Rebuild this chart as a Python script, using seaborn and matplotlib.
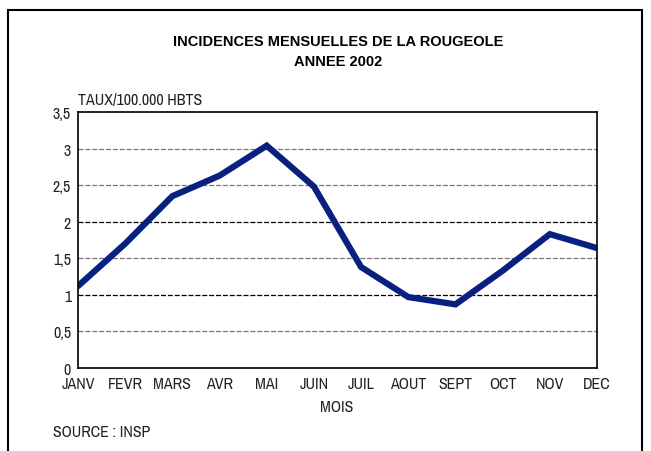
import matplotlib
matplotlib.use("Agg")
import matplotlib.pyplot as plt
import matplotlib.font_manager as fm
import numpy as np
import pandas as pd
import seaborn as sns

mois = ["JANV", "FEVR", "MARS", "AVR", "MAI", "JUIN", "JUIL", "AOUT", "SEPT", "OCT", "NOV", "DEC"]
taux = [1.12, 1.70, 2.35, 2.63, 3.04, 2.48, 1.38, 0.97, 0.87, 1.33, 1.83, 1.64]
yticks = [0, 0.5, 1, 1.5, 2, 2.5, 3, 3.5]
ylabels = ["0", "0,5", "1", "1,5", "2", "2,5", "3", "3,5"]

sns.set_style("white")

# chercher une police étroite
cands = []
for f in fm.fontManager.ttflist:
    st = str(f.stretch).lower()
    if ("narrow" in f.name.lower() or "condensed" in f.name.lower() or "condensed" in st) \
            and f.style == "normal" and "bold" not in f.fname.lower():
        cands.append((f.name, f.fname))
cands.sort()
if cands:
    fp = fm.FontProperties(fname=cands[0][1])
    tsize = 11.5
else:
    fp = fm.FontProperties(family="Liberation Sans")
    tsize = 9.3

df = pd.DataFrame({"mois": mois, "taux": taux})

W, H = 651, 452
fig = plt.figure(figsize=(W / 100, H / 100), dpi=100)
ax = fig.add_axes([78 / W, 1 - 369 / H, (597 - 78) / W, (369 - 113) / H])

sns.lineplot(data=df, x="mois", y="taux", sort=False, color="#08207f", linewidth=4.5, ax=ax,
             solid_joinstyle="miter", solid_capstyle="round")

ax.set_xlim(0, 11)
ax.set_ylim(0, 3.5)
ax.set_yticks(yticks)
ax.set_yticklabels(ylabels)
ax.set_xticks(range(12))
ax.set_xticklabels(mois)
for lab in ax.get_xticklabels() + ax.get_yticklabels():
    lab.set_fontproperties(fp)
    lab.set_fontsize(tsize)
    lab.set_color("#222222")
ax.tick_params(axis="both", length=0)
ax.tick_params(axis="x", pad=6)
ax.tick_params(axis="y", pad=5)
ax.set_xlabel("")
ax.set_ylabel("")
for s in ax.spines.values():
    s.set_color("black")
    s.set_linewidth(1.2)

for v in yticks[1:-1]:
    c = "black" if v in (1, 2) else "#777777"
    ax.axhline(v, color=c, linestyle=(0, (4, 1.5)), linewidth=0.9, zorder=0)

fig.text(338 / W, 1 - 42 / H, "INCIDENCES MENSUELLES DE LA ROUGEOLE", ha="center", va="center",
         fontsize=10.5, fontweight="bold", family=["Liberation Sans", "DejaVu Sans"], color="black")
fig.text(338 / W, 1 - 62 / H, "ANNEE 2002", ha="center", va="center",
         fontsize=10.5, fontweight="bold", family=["Liberation Sans", "DejaVu Sans"], color="black")
fig.text(78 / W, 1 - 100 / H, "TAUX/100.000 HBTS", ha="left", va="center",
         fontproperties=fp, fontsize=tsize, color="#222222")
fig.text(337 / W, 1 - 408 / H, "MOIS", ha="center", va="center",
         fontproperties=fp, fontsize=tsize, color="#222222")
fig.text(53 / W, 1 - 433 / H, "SOURCE : INSP", ha="left", va="center",
         fontproperties=fp, fontsize=tsize, color="#222222")

border = plt.Rectangle((8 / W, -0.1), (642 - 8) / W, 1 - 11 / H + 0.1, transform=fig.transFigure,
                       fill=False, edgecolor="black", linewidth=1.5)
fig.patches.append(border)

fig.savefig("out.png", dpi=100)
